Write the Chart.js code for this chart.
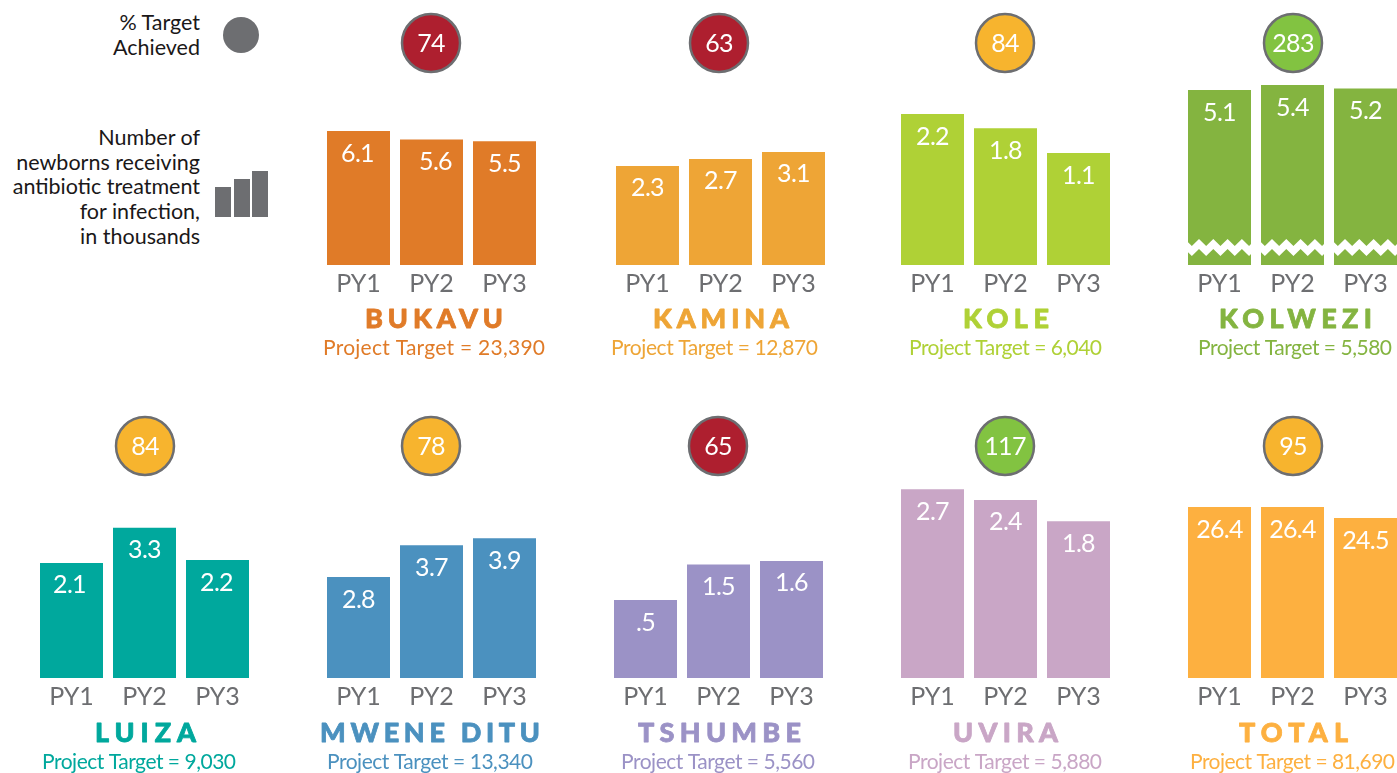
<!DOCTYPE html>
<html><head><meta charset="utf-8">
<style>
html,body{margin:0;padding:0;background:#fff;width:1397px;height:773px;overflow:hidden;position:relative}
canvas{position:absolute}
.leg{position:absolute;right:1197px;text-align:right;font:21.5px/24.7px Lato,sans-serif;color:#1a1718;white-space:nowrap}
.dot{position:absolute;left:223px;top:17px;width:36px;height:36px;border-radius:50%;background:#6d6e71}
.ib{position:absolute;background:#6d6e71;bottom:556px;width:16px}
</style>
<script src="https://cdn.jsdelivr.net/npm/chart.js@4"></script>
</head><body>
<div class="leg" style="top:10px">% Target<br>Achieved</div>
<div class="dot"></div>
<div class="leg" style="top:125px">Number of<br>newborns receiving<br>antibiotic treatment<br>for infection,<br>in thousands</div>
<div class="ib" style="left:215px;height:30px"></div>
<div class="ib" style="left:234px;height:38px"></div>
<div class="ib" style="left:252px;height:46px"></div>
<script>
const periods = ["PY1","PY2","PY3"];
const sites = ["BUKAVU","KAMINA","KOLE","KOLWEZI","LUIZA","MWENE DITU","TSHUMBE","UVIRA","TOTAL"];
const targets = ["23,390","12,870","6,040","5,580","9,030","13,340","5,560","5,880","81,690"];
const pctAchieved = [74,63,84,283,84,78,65,117,95];
const bukavu = [6.1,5.6,5.5];
const kamina = [2.3,2.7,3.1];
const kole = [2.2,1.8,1.1];
const kolwezi = [5.1,5.4,5.2];
const luiza = [2.1,3.3,2.2];
const mweneDitu = [2.8,3.7,3.9];
const tshumbe = [0.5,1.5,1.6];
const uvira = [2.7,2.4,1.8];
const total = [26.4,26.4,24.5];
const seriesBySite = [bukavu,kamina,kole,kolwezi,luiza,mweneDitu,tshumbe,uvira,total];
const axisMin = [-1.92,-3.36,-2.05,-5.38,-1.84,-0.07,-1.70,-2.62,-3.13];
const axisMax = [10.36,8.35,3.72,6.9,5.52,6.04,4.36,3.44,34.0];
const colors = ["#E07B28","#EEA536","#AFD136","#84B440","#00A89D","#4B91BF","#9B92C6","#C9A6C6","#FDB040"];

// layout only
const firstBarLeft = [327,616,901,1188,40,327,614,901,1188];
const badgeCenter = [431,719,1005,1293,145,431,718,1005,1293];
const titleBox = [[365,503],[653,789],[963,1049],[1219,1372],[95,196],[320,540],[638,801],[953,1058],[1239,1348]];
const targetBox = [[323,545],[611,818],[909,1102],[1198,1392],[42,236],[327,533],[621,815],[908,1102],[1190,1395]];
const CW=291, AREA=219;
const rowTop=[0,403], rowH=[375,370], axisH=[110,95];
const FONT="Lato, sans-serif";

function badge(p){return p<75?"#AE1F2F":(p<100?"#F7B42E":"#82C341");}
function fmt(v){return v<1?v.toFixed(1).replace(/^0/,""):v.toFixed(1);}
function fitText(ctx,text,box,canvasLeft,y){
 ctx.letterSpacing="0px";
 const w=ctx.measureText(text).width, want=box[1]-box[0];
 ctx.letterSpacing=((want-w)/(text.length-1)).toFixed(3)+"px";
 ctx.textAlign="left";
 ctx.fillText(text,box[0]-canvasLeft,y);
}

const panelPlugin={id:"panel",
 afterDatasetsDraw(c,a,o){
  const ctx=c.ctx, ca=c.chartArea, meta=c.getDatasetMeta(0);
  ctx.save();
  if(o.broken){
   ctx.fillStyle="#fff";
   meta.data.forEach(b=>{
    const l=b.x-b.width/2, s=14.3, y0=ca.bottom-26, amp=7, gap=10;
    ctx.save();
    ctx.beginPath();ctx.rect(l-1,y0-2,b.width+2,gap+amp+4);ctx.clip();
    const xs=[];for(let k=-1;k<=5;k++)xs.push(l+11+s*k);
    ctx.beginPath();
    ctx.moveTo(xs[0]-s/2,y0+amp);
    xs.forEach(x=>{ctx.lineTo(x,y0);ctx.lineTo(x+s/2,y0+amp);});
    xs.slice().reverse().forEach(x=>{ctx.lineTo(x+s/2,y0+amp+gap);ctx.lineTo(x,y0+gap);});
    ctx.lineTo(xs[0]-s/2,y0+amp+gap);
    ctx.closePath();ctx.fill();
    ctx.restore();
   });
  }
  ctx.textAlign="center";ctx.textBaseline="middle";
  ctx.fillStyle="#fff";ctx.font="25px "+FONT;ctx.letterSpacing="-0.7px";
  meta.data.forEach((b,i)=>{ctx.fillText(fmt(o.values[i]),b.x+(o.nudge?o.nudge[i]:0),b.y+22.5);});
  // percent badge
  const bx=o.badgeX-o.left;
  ctx.beginPath();ctx.arc(bx,ca.top-17,29,0,Math.PI*2);
  ctx.fillStyle=badge(o.pct);ctx.fill();
  ctx.lineWidth=2.5;ctx.strokeStyle="#6D6E71";ctx.stroke();
  ctx.fillStyle="#fff";
  ctx.fillText(String(o.pct),bx,ca.top-16);
  // names
  ctx.fillStyle=o.color;ctx.strokeStyle=o.color;ctx.lineWidth=0.8;ctx.lineJoin="round";
  ctx.font="900 27px "+FONT;
  fitText(ctx,o.name,o.titleBox,o.left,ca.bottom+o.titleDy);
  ctx.strokeText(o.name,o.titleBox[0]-o.left,ca.bottom+o.titleDy);
  ctx.font="21px "+FONT;
  fitText(ctx,"Project Target = "+o.target,o.targetBox,o.left,ca.bottom+o.targetDy);
  ctx.restore();
 }};

sites.forEach((name,i)=>{
 const row=i<4?0:1, cv=document.createElement("canvas"), left=firstBarLeft[i]-41;
 cv.width=CW;cv.height=rowH[row];
 cv.style.left=left+"px";cv.style.top=rowTop[row]+"px";
 cv.style.width=CW+"px";cv.style.height=rowH[row]+"px";
 document.body.appendChild(cv);
 new Chart(cv,{type:"bar",
  data:{labels:periods,datasets:[{data:seriesBySite[i],backgroundColor:colors[i],base:axisMin[i],
    barPercentage:63/73,categoryPercentage:1}]},
  options:{responsive:false,animation:false,
   layout:{padding:{left:(CW-AREA)/2,right:(CW-AREA)/2,top:60,bottom:0}},
   plugins:{legend:{display:false},tooltip:{enabled:false},
    panel:{name,target:targets[i],pct:pctAchieved[i],color:colors[i],values:seriesBySite[i],
      broken:name==="KOLWEZI",left,badgeX:badgeCenter[i],titleBox:titleBox[i],targetBox:targetBox[i],
      titleDy:row?55:54.5,targetDy:row?84:83,
      nudge:name==="BUKAVU"?[-1,4,0]:(name==="LUIZA"?[-2,0,-1]:null)}},
   scales:{
    x:{grid:{display:false,drawTicks:false},border:{display:false},
       afterFit(s){s.height=axisH[row];},
       ticks:{color:"#6D6E71",font:{family:FONT,size:25},padding:4,maxRotation:0,autoSkip:false}},
    y:{display:false,min:axisMin[i],max:axisMax[i]}
   }},
  plugins:[panelPlugin]});
});
</script>
</body></html>
